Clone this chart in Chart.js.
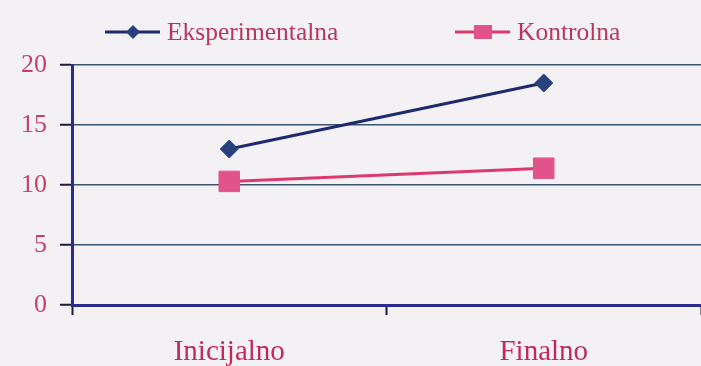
<!DOCTYPE html>
<html><head><meta charset="utf-8">
<script src="https://cdn.jsdelivr.net/npm/chart.js@4/dist/chart.umd.min.js"></script>
<style>html,body{margin:0;padding:0;background:#f3f1f3;}canvas{display:block;}</style>
</head><body>
<canvas id="c" width="701" height="366"></canvas>
<script>
const categories = ['Inicijalno', 'Finalno'];
const seriesNames = ['Eksperimentalna', 'Kontrolna'];
const eksperimentalna = [13.0, 18.5];
const kontrolna = [10.3, 11.4];
const yTicks = [0, 5, 10, 15, 20];

const FONT = "'Liberation Serif', 'Times New Roman', serif";
const NAVY = '#1f2a6e';
const PINK = '#dc3a6e';

const bgPlugin = {
  id: 'bg',
  beforeDraw(chart) {
    const ctx = chart.ctx;
    ctx.save();
    ctx.fillStyle = '#f3f1f3';
    ctx.fillRect(0, 0, chart.width, chart.height);
    ctx.restore();
  }
};

const legendPlugin = {
  id: 'customLegend',
  afterDraw(chart) {
    const ctx = chart.ctx;
    const starts = [105, 455];
    const y = 32;
    chart.data.datasets.forEach((ds, i) => {
      const x0 = starts[i];
      ctx.save();
      ctx.strokeStyle = ds.borderColor;
      ctx.lineWidth = 3;
      ctx.beginPath();
      ctx.moveTo(x0, y);
      ctx.lineTo(x0 + 55, y);
      ctx.stroke();
      ctx.fillStyle = ds.pointBackgroundColor;
      const cx = x0 + 28;
      if (ds.pointStyle === 'rectRot') {
        ctx.beginPath();
        ctx.moveTo(cx, y - 7); ctx.lineTo(cx + 7, y); ctx.lineTo(cx, y + 7); ctx.lineTo(cx - 7, y);
        ctx.closePath(); ctx.fill();
      } else {
        ctx.fillRect(cx - 9, y - 7, 18, 14);
      }
      ctx.fillStyle = '#b8365e';
      ctx.font = '25.5px ' + FONT;
      ctx.textBaseline = 'middle';
      ctx.textAlign = 'left';
      ctx.fillText(ds.label, x0 + 62, y + 1);
      ctx.restore();
    });
  }
};

new Chart(document.getElementById('c'), {
  type: 'line',
  data: {
    labels: categories,
    datasets: [
      {
        label: seriesNames[0],
        data: eksperimentalna,
        borderColor: NAVY,
        borderWidth: 3,
        pointStyle: 'rectRot',
        pointRadius: 9,
        pointHoverRadius: 9,
        pointBackgroundColor: '#27407e',
        pointBorderColor: '#27407e',
        pointBorderWidth: 1,
        tension: 0
      },
      {
        label: seriesNames[1],
        data: kontrolna,
        borderColor: PINK,
        borderWidth: 3,
        pointStyle: 'rect',
        pointRadius: 14.5,
        pointHoverRadius: 14.5,
        pointBackgroundColor: '#e2538c',
        pointBorderColor: '#e2538c',
        pointBorderWidth: 1,
        tension: 0
      }
    ]
  },
  options: {
    responsive: false,
    animation: false,
    events: [],
    layout: { autoPadding: false, padding: { top: 65, right: 0, left: 0, bottom: 0 } },
    plugins: {
      legend: { display: false },
      tooltip: { enabled: false },
      title: { display: false }
    },
    scales: {
      x: {
        offset: true,
        grid: {
          offset: true,
          drawOnChartArea: false,
          drawTicks: true,
          tickLength: 10,
          tickColor: '#1a1a3a',
          tickWidth: 2
        },
        border: { display: true, color: '#2b2b8f', width: 3 },
        ticks: {
          color: '#c02a5a',
          font: { family: FONT, size: 29 },
          padding: 20,
          maxRotation: 0
        },
        afterFit(scale) { scale.height = 61; }
      },
      y: {
        min: 0,
        max: 20,
        afterBuildTicks(scale) { scale.ticks = yTicks.map(v => ({ value: v })); },
        grid: {
          color: '#3a5570',
          lineWidth: 1.5,
          drawTicks: true,
          tickLength: 12,
          tickColor: '#1a1a3a',
          tickWidth: 2
        },
        border: { display: true, color: '#2b2b8f', width: 3 },
        ticks: {
          color: '#c8406a',
          font: { family: FONT, size: 26 },
          padding: 13
        },
        afterFit(scale) { scale.width = 72; }
      }
    }
  },
  plugins: [bgPlugin, legendPlugin]
});
</script>
</body></html>
